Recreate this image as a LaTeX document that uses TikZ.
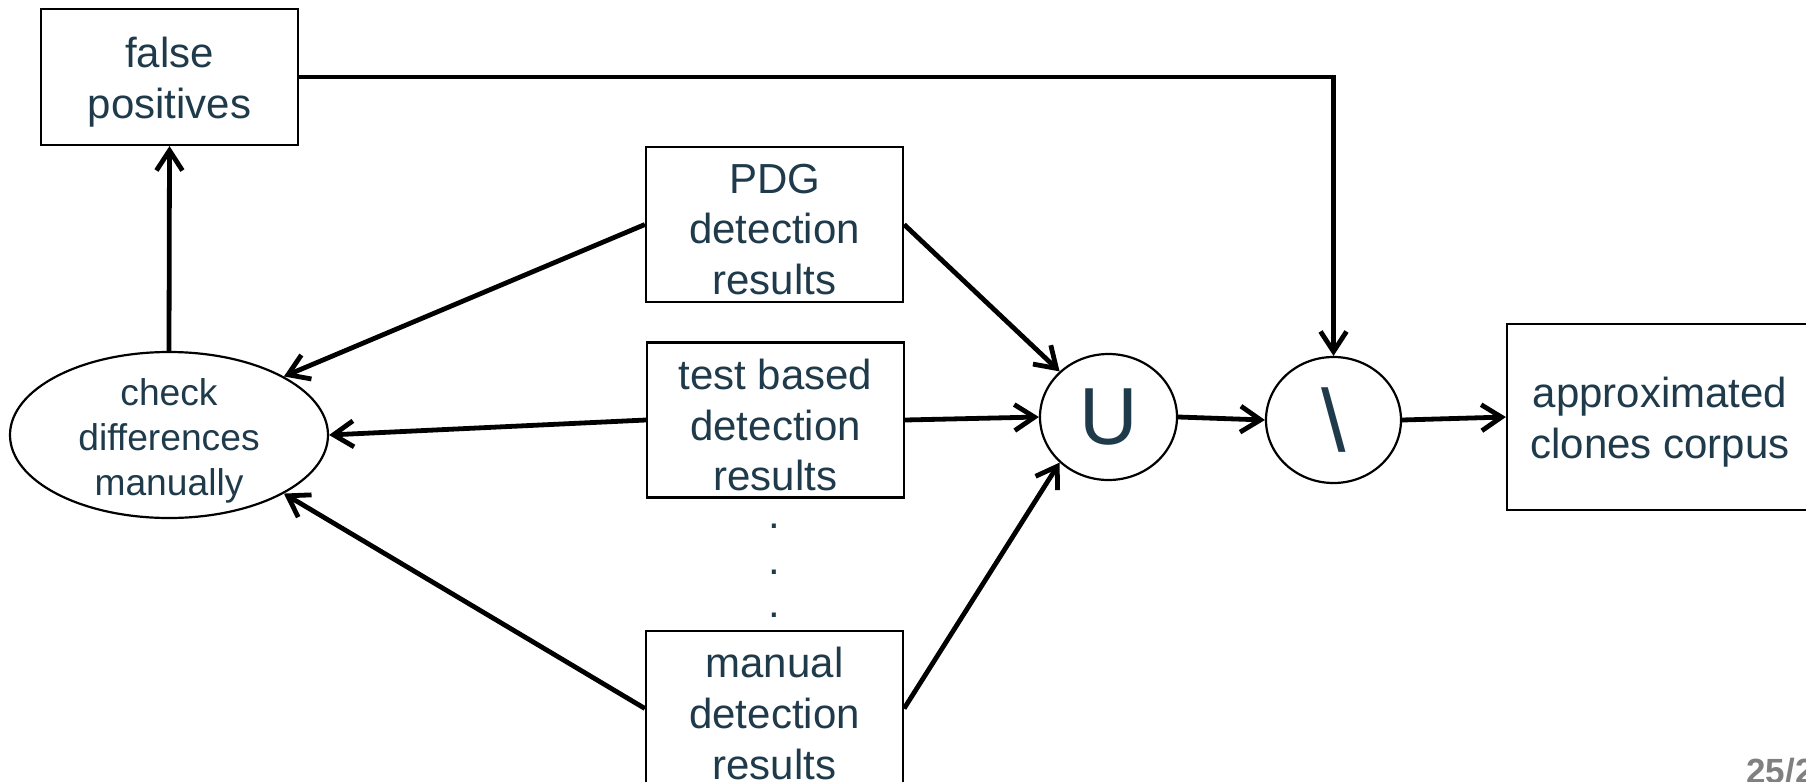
\documentclass[tikz,border=0pt]{standalone}
\usepackage{fontspec}
\setmainfont{Liberation Sans}
\usetikzlibrary{shapes.geometric,arrows.meta}
\definecolor{txt}{RGB}{31,58,74}
\definecolor{pgnum}{RGB}{128,128,128}
\tikzset{
  boxnode/.style={draw,line width=1.1pt,rectangle,inner sep=0pt,
    minimum width=128.5pt,minimum height=77.5pt},
  boxtext/.style={text=txt,align=center,inner sep=0pt,yshift=-2.5pt,
    font=\fontsize{21pt}{25.4pt}\selectfont},
  elltext/.style={text=txt,align=center,inner sep=0pt,yshift=-2.8pt,
    font=\fontsize{18.6pt}{22.5pt}\selectfont},
  ellnode/.style={draw,line width=1.1pt,ellipse,inner sep=0pt},
  flow/.style={line width=2.4pt,-{Straight Barb[length=10pt,width=13pt]}},
  dotnode/.style={inner sep=0pt,text=txt,font=\fontsize{21pt}{25.4pt}\selectfont}
}
\begin{document}
\begin{tikzpicture}[x=0.5pt,y=-0.5pt]
\clip (0,0) rectangle (1806,782);
\fill[white] (0,0) rectangle (1806,782);
% boxes
\node[boxnode,minimum height=68pt,label={[boxtext]center:false\\positives}] (fp) at (169.5,77) {};
\node[boxnode,label={[boxtext]center:PDG\\detection\\results}] (pdg) at (774.5,224.5) {};
\node[boxnode,label={[boxtext]center:test based\\detection\\results}] (test) at (775.5,420) {};
\node[boxnode,label={[boxtext]center:manual\\detection\\results}] (man) at (774.5,708.5) {};
\node[boxnode,minimum width=153pt,minimum height=93pt,
  label={[boxtext]center:approximated\\clones corpus}] (approx) at (1660,417) {};
% ellipses
\node[ellnode,minimum width=159pt,minimum height=83pt,
  label={[elltext]center:check\\differences\\manually}] (check) at (169,435) {};
\node[ellnode,minimum width=68.5pt,minimum height=63pt,text=txt,
  font=\fontsize{40.5pt}{44pt}\selectfont] (U) at (1108.5,417) {U};
\node[ellnode,minimum width=67.5pt,minimum height=63pt,text=txt,
  font=\fontsize{44pt}{48pt}\selectfont] (diff) at (1333.5,420) {\textbackslash};
% dots
\node[dotnode] (d1) at (774,526) {.};
\node[dotnode] (d2) at (774,572) {.};
\node[dotnode] (d3) at (774,615) {.};
% page number
\node[anchor=base west,inner sep=0pt,text=pgnum,
  font=\bfseries\fontsize{17.5pt}{20pt}\selectfont] (pg) at (1746,783) {25/2};
% connectors
\draw[flow] (check.north) -- (fp.south);
\draw[flow] (pdg.west) -- (check.27.5);
\draw[flow] (test.west) -- (check.east);
\draw[flow] (man.west) -- (check.-27);
\draw[flow] (pdg.east) -- (U.137);
\draw[flow] (test.east) -- (U.west);
\draw[flow] (man.east) -- (U.223.5);
\draw[flow] (U.east) -- (diff.west);
\draw[flow] (diff.east) -- (approx.west);
\draw[flow] (fp.east) -| (diff.north);
\end{tikzpicture}
\end{document}
